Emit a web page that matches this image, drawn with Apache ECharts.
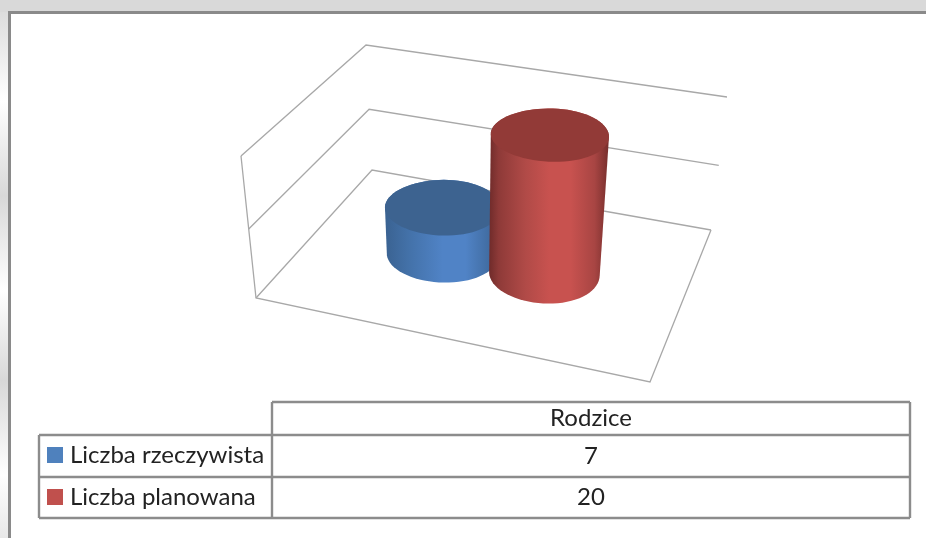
<!DOCTYPE html>
<html>
<head>
<meta charset="utf-8">
<title>Rodzice</title>
<style>
html, body { margin: 0; padding: 0; background: #fff; }
#wykres { width: 926px; height: 538px; filter: blur(0.5px); }
</style>
<script src="https://cdn.jsdelivr.net/npm/echarts@6/dist/echarts.min.js"></script>
</head>
<body>
<div id="wykres"></div>
<script>
// dane wykresu
var categories = ['Rodzice'];
var seriesNames = ['Liczba rzeczywista', 'Liczba planowana'];
var actualValues = [7];
var plannedValues = [20];
var axisTicks = [0, 10, 20];

// rzut 3D: naroza podlogi i gory "pudelka" na ekranie (lewy/prawy, przod/tyl)
var floorBox = { fl: [256, 298], fr: [650, 382], bl: [372, 170], br: [711, 230] };
var topBox = { fl: [241, 156], fr: [664, 231], bl: [366, 45], br: [727, 97] };
var perspective = 1.058;
var barOffset = [-0.157, 0.121];   // przesuniecie walca wzgledem srodka kategorii
var barDepth = 0.54;
var radiusU = 0.145;
var radiusW = 0.2;

var lineColor = '#a8a8a8';
var tableColor = '#8c8c8c';
var textColor = '#222222';

function mix(a, b, t) {
    return [a[0] + (b[0] - a[0]) * t, a[1] + (b[1] - a[1]) * t];
}
function quad(box, u, w) {
    return mix(mix(box.fl, box.fr, u), mix(box.bl, box.br, u), w);
}
// u - szerokosc, w - glebokosc, t - wysokosc (0..1)
function project(u, w, t) {
    var s = t / (t + (1 - t) * perspective);
    return mix(quad(floorBox, u, w), quad(topBox, u, w), s);
}
function heightOf(api, params, value) {
    var cs = params.coordSys;
    return (cs.y + cs.height - api.coord([0, value])[1]) / cs.height;
}
function ring(u, t) {
    var pts = [];
    for (var i = 0; i < 72; i++) {
        var a = i / 72 * Math.PI * 2;
        pts.push(project(u + radiusU * Math.cos(a), barDepth + radiusW * Math.sin(a), t));
    }
    return pts;
}
function hull(points) {
    var p = points.slice().sort(function (a, b) { return a[0] - b[0] || a[1] - b[1]; });
    function cross(o, a, b) {
        return (a[0] - o[0]) * (b[1] - o[1]) - (a[1] - o[1]) * (b[0] - o[0]);
    }
    var lower = [], upper = [], i;
    for (i = 0; i < p.length; i++) {
        while (lower.length > 1 && cross(lower[lower.length - 2], lower[lower.length - 1], p[i]) <= 0) lower.pop();
        lower.push(p[i]);
    }
    for (i = p.length - 1; i >= 0; i--) {
        while (upper.length > 1 && cross(upper[upper.length - 2], upper[upper.length - 1], p[i]) <= 0) upper.pop();
        upper.push(p[i]);
    }
    return lower.slice(0, -1).concat(upper.slice(0, -1));
}

function renderFrame(params, api) {
    var t = heightOf(api, params, api.value(1));
    var lineStyle = { stroke: lineColor, lineWidth: 1.3, fill: null };
    var children = [{
        type: 'polyline',
        shape: { points: [project(0, 0, t), project(0, 1, t), project(1, 1, t)] },
        style: lineStyle
    }];
    if (t === 0) {
        children.push({
            type: 'polyline',
            shape: { points: [project(1, 1, 0), project(1, 0, 0), project(0, 0, 0), project(0, 0, 1)] },
            style: lineStyle
        });
    }
    return { type: 'group', children: children };
}

function cylinder(colors, topColor) {
    return function (params, api) {
        var cs = params.coordSys;
        var idx = params.seriesIndex - 1;
        var u = (api.coord([api.value(0), 0])[0] - cs.x) / cs.width + barOffset[idx];
        var t = heightOf(api, params, api.value(1));
        var topRing = ring(u, t);
        var body = hull(ring(u, 0).concat(topRing));
        return {
            type: 'group',
            children: [{
                type: 'polygon',
                shape: { points: body },
                style: {
                    fill: new echarts.graphic.LinearGradient(0, 0, 1, 0, colors),
                    stroke: null
                }
            }, {
                type: 'polygon',
                shape: { points: topRing },
                style: { fill: topColor, stroke: null }
            }]
        };
    };
}

var blueStops = [
    { offset: 0, color: '#3a6291' }, { offset: 0.2, color: '#4371a8' },
    { offset: 0.5, color: '#5083c6' }, { offset: 0.7, color: '#5083c6' },
    { offset: 1, color: '#3a6291' }
];
var redStops = [
    { offset: 0, color: '#6f2b2a' }, { offset: 0.08, color: '#8e3a38' },
    { offset: 0.3, color: '#b04a47' }, { offset: 0.5, color: '#c8524f' },
    { offset: 0.68, color: '#c8524f' }, { offset: 0.88, color: '#a84543' },
    { offset: 1, color: '#762e2c' }
];

// tabela danych pod wykresem
var tableX = [39, 272, 910];
var tableY = [402, 435, 477, 518];
function tableLine(x1, y1, x2, y2) {
    return {
        type: 'line',
        shape: { x1: x1, y1: y1, x2: x2, y2: y2 },
        style: { stroke: tableColor, lineWidth: 2.4 }
    };
}
function tableText(text, row) {
    return {
        type: 'text',
        x: (tableX[1] + tableX[2]) / 2,
        y: (tableY[row] + tableY[row + 1]) / 2,
        style: {
            text: String(text), fill: textColor, align: 'center', verticalAlign: 'middle',
            font: '24px Lato, "Open Sans", sans-serif'
        }
    };
}

var myChart = echarts.init(document.getElementById('wykres'), null, { renderer: 'canvas' });
myChart.setOption({
    animation: false,
    backgroundColor: '#ffffff',
    grid: { left: 256, width: 394, top: 156, height: 142 },
    xAxis: { type: 'category', data: categories, show: false },
    yAxis: { type: 'value', min: 0, max: 20, interval: 10, show: false },
    legend: {
        orient: 'vertical',
        left: 47,
        top: 443,
        padding: 0,
        itemWidth: 16,
        itemHeight: 16,
        itemGap: 18,
        data: [{ name: seriesNames[0], icon: 'rect' }, { name: seriesNames[1], icon: 'rect' }],
        textStyle: { color: textColor, fontFamily: 'Lato, "Open Sans", sans-serif', fontSize: 24, lineHeight: 16, padding: [0, 0, 0, 2] }
    },
    series: [{
        name: 'siatka',
        type: 'custom',
        silent: true,
        renderItem: renderFrame,
        data: axisTicks.map(function (v) { return [0, v]; })
    }, {
        name: seriesNames[0],
        type: 'custom',
        itemStyle: { color: '#4f81bd' },
        renderItem: cylinder(blueStops, '#3d6390'),
        data: actualValues.map(function (v, i) { return [i, v]; })
    }, {
        name: seriesNames[1],
        type: 'custom',
        itemStyle: { color: '#c0504d' },
        renderItem: cylinder(redStops, '#923a37'),
        data: plannedValues.map(function (v, i) { return [i, v]; })
    }],
    graphic: [
        // tlo okna
        { type: 'rect', shape: { x: 0, y: 0, width: 926, height: 12 }, style: { fill: '#d9d9d9' } },
        {
            type: 'rect',
            shape: { x: 0, y: 12, width: 8, height: 526 },
            style: {
                fill: new echarts.graphic.LinearGradient(0, 0, 0, 1, [
                    { offset: 0, color: '#dcdcdc' }, { offset: 0.17, color: '#ffffff' },
                    { offset: 0.35, color: '#d8d8d8' }, { offset: 0.53, color: '#ffffff' },
                    { offset: 0.7, color: '#d8d8d8' }, { offset: 0.88, color: '#ffffff' },
                    { offset: 1, color: '#e8e8e8' }
                ])
            }
        },
        { type: 'line', shape: { x1: 9.5, y1: 12, x2: 9.5, y2: 538 }, style: { stroke: '#8a8a8a', lineWidth: 3 } },
        { type: 'line', shape: { x1: 8, y1: 12.5, x2: 926, y2: 12.5 }, style: { stroke: '#8a8a8a', lineWidth: 3 } },
        // linie tabeli
        tableLine(tableX[1], tableY[0], tableX[2], tableY[0]),
        tableLine(tableX[0], tableY[1], tableX[2], tableY[1]),
        tableLine(tableX[0], tableY[2], tableX[2], tableY[2]),
        tableLine(tableX[0], tableY[3], tableX[2], tableY[3]),
        tableLine(tableX[0], tableY[1], tableX[0], tableY[3]),
        tableLine(tableX[1], tableY[0], tableX[1], tableY[3]),
        tableLine(tableX[2], tableY[0], tableX[2], tableY[3]),
        tableText(categories[0], 0),
        tableText(actualValues[0], 1),
        tableText(plannedValues[0], 2)
    ]
});
</script>
</body>
</html>
